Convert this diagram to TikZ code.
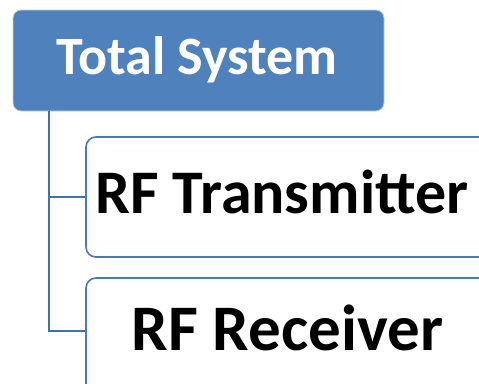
\documentclass[tikz,border=0pt]{standalone}
\usepackage{fontspec}
\setmainfont{Carlito}
\usetikzlibrary{positioning}
\definecolor{HeadBlue}{HTML}{4F81BD}
\definecolor{EdgeBlue}{HTML}{4A78B0}
\definecolor{LinkBlue}{HTML}{4470A8}

\begin{document}
\begin{tikzpicture}[x=1pt, y=-1pt,
    childbox/.style={draw=EdgeBlue, fill=white, line width=1.6pt, rounded corners=10pt, inner sep=0, minimum width=404pt, minimum height=120pt},
    link/.style={draw=LinkBlue, line width=1.4pt}]
  \useasboundingbox (0,0) rectangle (479,383);
  \clip (0,0) rectangle (479,383);
  \node[draw=HeadBlue!35, fill=HeadBlue, line width=0.8pt, rounded corners=8pt, inner sep=0, minimum width=371pt, minimum height=101pt] (total) at (198.5,60.5) {};
  \node[childbox] (tx) at (288,197) {};
  \node[childbox] (rx) at (288,338) {};
  \node[anchor=base, text=white, font=\bfseries\fontsize{54}{64}\selectfont, inner sep=0] at ([xshift=-1.5pt, yshift=-14pt]total.center) {Total System};
  \node[anchor=base, font=\bfseries\fontsize{62}{72}\selectfont, inner sep=0] at ([xshift=-6pt, yshift=-16pt]tx.center) {RF Transmitter};
  \node[anchor=base, font=\bfseries\fontsize{65}{76}\selectfont, inner sep=0] at ([xshift=-0.5pt, yshift=-12pt]rx.center) {RF Receiver};
  % tree connector down the left side
  \coordinate (fork) at ([xshift=36.5pt]total.south west);
  \coordinate (rxin) at ([yshift=7pt]rx.west);
  \draw[link] (fork) |- (tx.west);
  \draw[link] (fork) |- (rxin);
\end{tikzpicture}
\end{document}
